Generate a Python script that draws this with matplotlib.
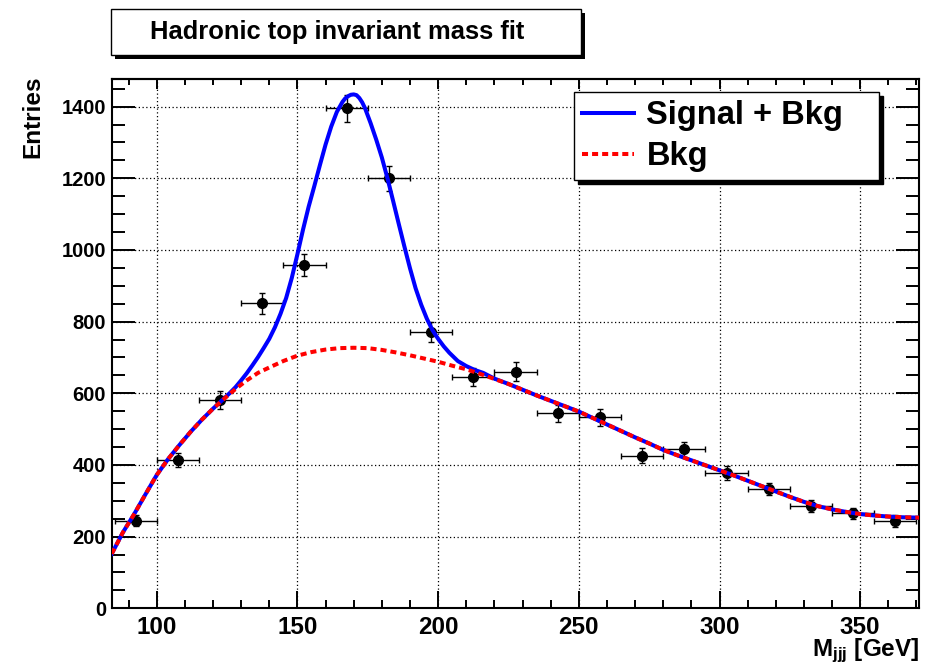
import matplotlib
matplotlib.use('Agg')
import matplotlib.pyplot as plt
from matplotlib.ticker import MultipleLocator
from matplotlib.patches import Rectangle

# ---------------- data ----------------
bin_centers = [92.5, 107.5, 122.5, 137.5, 152.5, 167.5, 182.5, 197.5, 212.5, 227.5,
               242.5, 257.5, 272.5, 287.5, 302.5, 317.5, 332.5, 347.5, 362.5]
entries = [245, 414, 581, 851, 958, 1395, 1200, 770, 645, 660,
           544, 533, 426, 444, 378, 333, 286, 265, 244]
entries_err = [16, 20, 24, 29, 31, 37, 35, 28, 25, 26,
               23, 23, 21, 21, 19, 18, 17, 16, 16]
bin_half_width = 7.5

bkg_x = [84, 88, 92, 96, 100, 104, 108, 112, 116, 120, 124, 128, 132, 136, 140, 145,
         150, 155, 160, 165, 170, 175, 180, 185, 190, 195, 200, 205, 210, 215, 220,
         225, 230, 235, 240, 245, 250, 255, 260, 265, 270, 275, 280, 285, 290, 295,
         300, 305, 310, 315, 320, 325, 330, 335, 340, 345, 350, 355, 360, 365, 371]
bkg_y = [152, 212, 263, 318, 372, 416, 455, 492, 526, 557, 585, 612, 636, 657, 672, 690,
         705, 715, 722, 726, 727, 726, 721, 714, 706, 697, 688, 677, 667, 654, 640,
         626, 610, 594, 579, 564, 549, 531, 513, 495, 477, 460, 442, 427, 413, 399,
         385, 371, 356, 341, 326, 311, 297, 285, 276, 269, 263, 259, 256, 254, 253]

tot_x = [84, 88, 92, 96, 100, 104, 108, 112, 116, 120, 124, 126, 128, 130, 132, 134,
         136, 138, 140, 142, 144, 146, 148, 150, 152, 154, 156, 158, 160, 162, 164,
         166, 167, 168, 169, 170, 171, 172, 173, 174, 176, 178, 180, 182, 184, 186,
         188, 190, 192, 194, 196, 198, 200, 202, 204, 207, 210, 213, 216, 220,
         225, 230, 235, 240, 245, 250, 255, 260, 265, 270, 275, 280, 285, 290, 295,
         300, 305, 310, 315, 320, 325, 330, 335, 340, 345, 350, 355, 360, 365, 371]
tot_y = [152, 212, 263, 318, 372, 416, 455, 492, 526, 557, 586, 601, 617, 636, 656, 678,
         701, 726, 752, 784, 822, 866, 922, 988, 1057, 1121, 1178, 1237, 1294, 1344, 1385,
         1413, 1423, 1429, 1433, 1434, 1432, 1424, 1412, 1396, 1354, 1308, 1258, 1200, 1137, 1073,
         1010, 949, 893, 847, 808, 776, 752, 731, 713, 690, 676, 665, 657, 641,
         626, 610, 594, 579, 564, 549, 531, 513, 495, 477, 460, 442, 427, 413, 399,
         385, 371, 356, 341, 326, 311, 297, 285, 276, 269, 263, 259, 256, 254, 253]

x_ticks_major = [100, 150, 200, 250, 300, 350]
y_ticks_major = [0, 200, 400, 600, 800, 1000, 1200, 1400]

# ---------------- style ----------------
plt.rcParams['font.family'] = ['Liberation Sans', 'DejaVu Sans']
plt.rcParams['font.weight'] = 'bold'
plt.rcParams['mathtext.fontset'] = 'custom'
plt.rcParams['mathtext.rm'] = 'Liberation Sans:bold'
plt.rcParams['mathtext.bf'] = 'Liberation Sans:bold'
plt.rcParams['mathtext.it'] = 'Liberation Sans:bold'

W, H = 929, 664
fig = plt.figure(figsize=(W / 100, H / 100), dpi=100)
ax_l, ax_r, ax_t, ax_b = 111.7, 919.3, 79.0, 608.3
ax = fig.add_axes([ax_l / W, 1 - ax_b / H, (ax_r - ax_l) / W, (ax_b - ax_t) / H])

ax.errorbar(bin_centers, entries, xerr=bin_half_width, yerr=entries_err, fmt='o',
            color='black', ms=7, elinewidth=1.0, capsize=2.2, capthick=1.0, zorder=3)
l1, = ax.plot(tot_x, tot_y, color='#0000ff', lw=2.9, solid_joinstyle='round',
              label='Signal + Bkg', zorder=4)
l2, = ax.plot(bkg_x, bkg_y, color='#ff0000', lw=2.9, linestyle=(0, (1.5, 1.0)),
              label='Bkg', zorder=5)

ax.set_xlim(84, 371)
ax.set_ylim(0, 1477)
ax.set_xticks(x_ticks_major)
ax.set_yticks(y_ticks_major)
ax.xaxis.set_minor_locator(MultipleLocator(10))
ax.yaxis.set_minor_locator(MultipleLocator(50))
ax.grid(True, which='major', color='black', linestyle=(0, (1, 2)), linewidth=0.9)
ax.set_axisbelow(True)

for s in ax.spines.values():
    s.set_linewidth(1.5)
ax.tick_params(axis='x', which='major', direction='in', length=12, width=1.4,
               labelsize=17.5, pad=5.5, top=False)
ax.tick_params(axis='x', which='minor', direction='in', length=6, width=1.4, top=False)
ax.tick_params(axis='y', which='major', direction='in', length=16.5, width=1.4,
               labelsize=14.5, pad=4, right=True)
ax.tick_params(axis='y', which='minor', direction='in', length=9.5, width=1.4, right=True)

sec = ax.secondary_xaxis('top')
sec.set_xticks(x_ticks_major)
sec.xaxis.set_minor_locator(MultipleLocator(10))
sec.tick_params(axis='x', which='major', direction='in', length=7, width=1.4, labeltop=False)
sec.tick_params(axis='x', which='minor', direction='in', length=4.5, width=1.4)
sec.spines['top'].set_linewidth(1.5)

# axis titles
fig.text(33 / W, 1 - 116.5 / H, 'Entries', rotation=90, ha='center', va='center',
         fontsize=17.5, fontweight='bold')
fig.text(919 / W, 1 - 656 / H, r'M$_{\mathbf{jjj}}$ [GeV]', ha='right', va='baseline',
         fontsize=17.5, fontweight='bold')

# title box with shadow
tb_x0, tb_x1, tb_y0, tb_y1 = 110.8, 580.8, 9.3, 55.0
sh = 4.0
fig.patches.append(Rectangle(((tb_x0 + sh) / W, 1 - (tb_y1 + sh) / H), (tb_x1 - tb_x0) / W,
                             (tb_y1 - tb_y0) / H, transform=fig.transFigure,
                             facecolor='black', edgecolor='black', lw=0))
fig.patches.append(Rectangle((tb_x0 / W, 1 - tb_y1 / H), (tb_x1 - tb_x0) / W,
                             (tb_y1 - tb_y0) / H, transform=fig.transFigure,
                             facecolor='white', edgecolor='black', lw=1.0))
fig.text(337 / W, 1 - 32.5 / H, 'Hadronic top invariant mass fit', ha='center', va='center',
         fontsize=18.4, fontweight='bold')

# legend
lg_x0, lg_x1, lg_y0, lg_y1 = 574, 879, 92, 177
leg = ax.legend(handles=[l1, l2], loc='upper left',
                bbox_to_anchor=(lg_x0 / W, 1 - lg_y1 / H, (lg_x1 - lg_x0) / W, (lg_y1 - lg_y0) / H),
                bbox_transform=fig.transFigure, mode='expand', borderaxespad=0,
                fontsize=23.5, handlelength=1.6, handletextpad=0.37, borderpad=0.25,
                labelspacing=0.3, fancybox=False, framealpha=1, edgecolor='black',
                shadow={'ox': 3.2, 'oy': -3.0, 'facecolor': 'black', 'edgecolor': 'black',
                        'alpha': 1})
leg.get_frame().set_linewidth(1.0)
for t in leg.get_texts():
    t.set_fontweight('bold')

fig.savefig('out.png', dpi=100)
